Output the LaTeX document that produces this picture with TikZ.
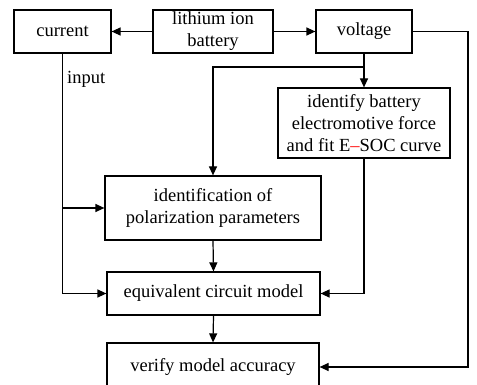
\documentclass[tikz,border=0pt]{standalone}
\usepackage{fontspec}
\setmainfont{Liberation Serif}
\usetikzlibrary{arrows.meta}
\begin{document}
\begin{tikzpicture}[x=1pt,y=-1pt,
  box/.style={draw,line width=1.2pt,inner sep=0pt,align=center,
    font=\fontsize{18.5}{22}\selectfont},
  conn/.style={line width=1.2pt},
  arr/.style={conn,-{Triangle[length=9pt,width=8pt]}}]
\useasboundingbox (0,0) rectangle (477,385);
\node[box,minimum width=97pt,minimum height=43pt] (cur) at (62.5,31.5) {current};
\node[box,minimum width=120pt,minimum height=43pt] (bat) at (213,31.5) {lithium ion\\battery};
\node[box,minimum width=96pt,minimum height=43pt] (vol) at (364,31.5) {voltage};
\node[box,minimum width=172pt,minimum height=70pt] (emf) at (364,123) {identify battery\\electromotive force\\and fit E{\color{red}–}SOC curve};
\node[box,minimum width=216pt,minimum height=64pt] (pol) at (213,208) {identification of\\polarization parameters};
\node[box,minimum width=213pt,minimum height=43pt] (eq) at (213.5,293.5) {equivalent circuit model};
\node[box,minimum width=212pt,minimum height=48pt] (ver) at (213,367) {verify model accuracy};
\node[anchor=west,inner sep=0pt,font=\fontsize{18.5}{22}\selectfont] (inp) at (67,79) {input};
\coordinate (vr) at (468,31.5);
\coordinate (vb) at (468,367);
\coordinate (vs) at (364,67);
\coordinate (ps) at (213,67);
\coordinate (cb) at (62.5,293.5);
\coordinate (cm) at (62.5,208);
\coordinate (eb) at (364,293.5);
\draw[arr] (bat.west) -- (cur.east);
\draw[arr] (bat.east) -- (vol.west);
\draw[arr] (vol.east) -- (vr) -- (vb) -- (ver.east);
\draw[arr] (vol.south) -- (emf.north);
\draw[arr] (vs) -- (ps) -- (pol.north);
\draw[arr] (cur.south) -- (cb) -- (eq.west);
\draw[arr] (cm) -- (pol.west);
\draw[arr] (emf.south) -- (eb) -- (eq.east);
\draw[arr] (pol.south) -- (eq.north);
\draw[arr] (eq.south) -- (ver.north);
\end{tikzpicture}
\end{document}
